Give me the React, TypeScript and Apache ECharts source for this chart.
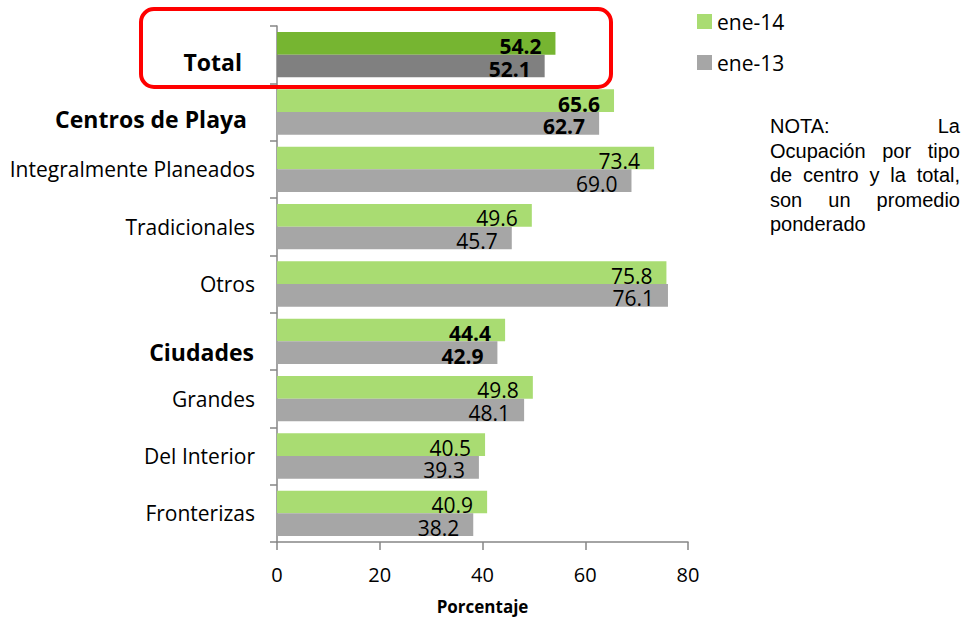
import React, { useEffect, useRef } from "react";
import * as echarts from "echarts";

const categories = [
  "Total",
  "Centros de Playa",
  "Integralmente Planeados",
  "Tradicionales",
  "Otros",
  "Ciudades",
  "Grandes",
  "Del Interior",
  "Fronterizas",
];
const ene14 = [54.2, 65.6, 73.4, 49.6, 75.8, 44.4, 49.8, 40.5, 40.9];
const ene13 = [52.1, 62.7, 69.0, 45.7, 76.1, 42.9, 48.1, 39.3, 38.2];
const boldCategories = ["Total", "Centros de Playa", "Ciudades"];
const xTicks = [0, 20, 40, 60, 80];
const seriesNames = ["ene-14", "ene-13"];
const noteLines = [
  "NOTA: La",
  "Ocupación por tipo",
  "de centro y la total,",
  "son un promedio",
  "ponderado",
];

const FONT = "'Open Sans', sans-serif";
const NOTE_FONT_FAMILY = "'Liberation Sans', Arial, sans-serif";
const NOTE_FONT_SIZE = 20;

function justifyNote(left: number, right: number, top: number, lineH: number) {
  const canvas = document.createElement("canvas");
  const ctx = canvas.getContext("2d");
  const els: any[] = [];
  if (ctx) ctx.font = NOTE_FONT_SIZE + "px " + NOTE_FONT_FAMILY;
  const spaceW = ctx ? ctx.measureText(" ").width : NOTE_FONT_SIZE * 0.278;
  noteLines.forEach((line, li) => {
    const words = line.split(" ");
    const widths = words.map((w) => (ctx ? ctx.measureText(w).width : w.length * NOTE_FONT_SIZE * 0.55));
    const y = top + li * lineH;
    const last = li === noteLines.length - 1;
    let gap = spaceW;
    if (!last && words.length > 1) {
      const sum = widths.reduce((a, b) => a + b, 0);
      gap = (right - left - sum) / (words.length - 1);
    }
    let x = left;
    words.forEach((w, wi) => {
      const isLastWord = !last && wi === words.length - 1 && words.length > 1;
      els.push({
        type: "text",
        x: isLastWord ? right : x,
        y,
        style: {
          text: w,
          fill: "#000",
          fontSize: NOTE_FONT_SIZE,
          fontFamily: NOTE_FONT_FAMILY,
          align: isLastWord ? "right" : "left",
          verticalAlign: "middle",
        },
      });
      x += widths[wi] + gap;
    });
  });
  return els;
}

export default function App() {
  const ref = useRef<HTMLDivElement>(null);
  useEffect(() => {
    if (!ref.current) return;
    const chart = echarts.init(ref.current, null, { renderer: "svg" });

    const mkData = (vals: number[], light: string, dark: string) =>
      vals.map((v, i) => {
        const bold = boldCategories.includes(categories[i]);
        return {
          value: v,
          itemStyle: { color: i === 0 ? dark : light },
          label: bold ? { fontWeight: "bold" } : {},
        };
      });

    const labelCfg = {
      show: true,
      position: "insideRight",
      distance: 5,
      offset: [-9, 3],
      color: "#000",
      fontFamily: FONT,
      fontSize: 21,
      formatter: (p: any) => Number(p.value).toFixed(1),
    };

    chart.setOption({
      animation: false,
      backgroundColor: "#fff",
      legend: {
        orient: "vertical",
        left: 692,
        top: 6,
        itemWidth: 15,
        itemHeight: 15,
        itemGap: 20,
        icon: "rect",
        data: seriesNames,
        textStyle: { fontFamily: FONT, fontSize: 21, color: "#000" },
      },
      grid: { left: 277, right: 278, top: 26, bottom: 77, outerBoundsMode: "none", containLabel: false },
      xAxis: {
        type: "value",
        min: xTicks[0],
        max: xTicks[xTicks.length - 1],
        interval: 20,
        name: "Porcentaje",
        nameLocation: "middle",
        nameGap: 56,
        nameTextStyle: { fontFamily: FONT, fontSize: 17, fontWeight: "bold", color: "#000" },
        axisLine: { show: true, lineStyle: { color: "#868686", width: 1.5 } },
        axisTick: { show: true, length: 8, lineStyle: { color: "#868686", width: 1.5 } },
        axisLabel: { margin: 22, fontFamily: FONT, fontSize: 20, color: "#000" },
        splitLine: { show: false },
      },
      yAxis: {
        type: "category",
        inverse: true,
        data: categories,
        axisLine: { show: true, lineStyle: { color: "#868686", width: 1.5 } },
        axisTick: { show: true, length: 7, lineStyle: { color: "#868686", width: 1.5 } },
        axisLabel: {
          margin: 22,
          fontFamily: FONT,
          fontSize: 21,
          color: "#000",
          formatter: (v: string) => {
            if (v === "Total") return "{t|" + v + "}";
            if (v === "Centros de Playa") return "{c|" + v + "}";
            if (v === "Ciudades") return "{d|" + v + "}";
            return v;
          },
          rich: {
            t: { fontFamily: FONT, fontSize: 23, fontWeight: "bold", color: "#000", padding: [15, 13, 0, 0] },
            c: { fontFamily: FONT, fontSize: 23, fontWeight: "bold", color: "#000", padding: [14, 8, 0, 0] },
            d: { fontFamily: FONT, fontSize: 23, fontWeight: "bold", color: "#000", padding: [22, 1, 0, 0] },
          },
        },
      },
      series: [
        {
          name: seriesNames[0],
          type: "bar",
          data: mkData(ene14, "#a9dc72", "#76b531"),
          itemStyle: { color: "#a9dc72" },
          barGap: "0%",
          barCategoryGap: "21%",
          label: labelCfg,
        },
        {
          name: seriesNames[1],
          type: "bar",
          data: mkData(ene13, "#a6a6a6", "#808080"),
          itemStyle: { color: "#a6a6a6" },
          barGap: "0%",
          barCategoryGap: "21%",
          label: labelCfg,
        },
      ],
      graphic: [
        {
          type: "rect",
          shape: { x: 141, y: 9, width: 470, height: 78, r: 13 },
          style: { fill: "none", stroke: "#ff0000", lineWidth: 4 },
          z: 100,
        },
        ...justifyNote(770, 960, 126, 24.6),
      ],
    });
    return () => chart.dispose();
  }, []);
  return <div ref={ref} style={{ width: 966, height: 619, position: "absolute", left: 0, top: 0 }} />;
}
